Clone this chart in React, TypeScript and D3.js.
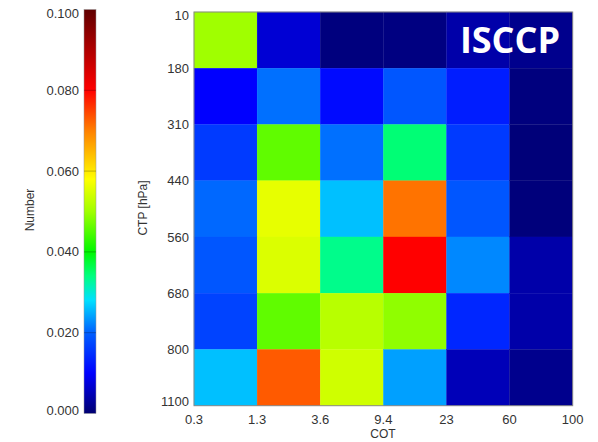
import React from "react";
import * as d3 from "d3";

const cotLabels = ["0.3", "1.3", "3.6", "9.4", "23", "60", "100"];
const ctpLabels = ["10", "180", "310", "440", "560", "680", "800", "1100"];
// rows: top (10-180) to bottom (800-1100); columns: COT bins left to right
const values: number[][] = [
  [0.050, 0.007, 0.001, 0.0012, 0.004, 0.002],
  [0.010, 0.021, 0.011, 0.019, 0.013, 0.001],
  [0.016, 0.046, 0.021, 0.0345, 0.016, 0.0006],
  [0.0205, 0.056, 0.026, 0.071, 0.019, 0.0008],
  [0.019, 0.055, 0.0335, 0.080, 0.0225, 0.004],
  [0.017, 0.046, 0.052, 0.049, 0.014, 0.004],
  [0.026, 0.073, 0.054, 0.024, 0.005, 0.002],
];
const cbTicks = [0, 0.02, 0.04, 0.06, 0.08, 0.1];
const cmapStops = [0, 0.01, 0.02, 0.028, 0.034, 0.04, 0.05, 0.058, 0.07, 0.08, 0.1];
const cmapColors = ["#000070", "#0000ff", "#0060ff", "#00e0ff", "#00ff80", "#00f800", "#a0ff00", "#ffff00", "#ff8000", "#ff0000", "#600000"];

export default function App() {
  const W = 598, H = 442;
  const left = 194, right = 572.7, top = 12, bottom = 405.7;
  const nCols = cotLabels.length - 1;
  const nRows = ctpLabels.length - 1;
  const x = d3.scaleLinear().domain([0, nCols]).range([left, right]);
  const y = d3.scaleLinear().domain([0, nRows]).range([top, bottom]);
  const color = d3.scaleLinear<string>().domain(cmapStops).range(cmapColors).clamp(true);

  const cbX = 84, cbW = 12, cbTop = 9.5, cbBottom = 413.5;
  const cy = d3.scaleLinear().domain([0, 0.1]).range([cbBottom, cbTop]);
  const gradStops = d3.range(0, 101).map((i) => i / 1000);

  const font = "Liberation Sans, Arial, sans-serif";
  const tc = "#333";

  return (
    <svg width={W} height={H} style={{ position: "absolute", left: 0, top: 0 }} fontFamily={font}>
      <defs>
        <linearGradient id="cb" x1="0" y1="1" x2="0" y2="0">
          {gradStops.map((v) => (
            <stop key={v} offset={v / 0.1} stopColor={color(v)} />
          ))}
        </linearGradient>
      </defs>
      <rect x={0} y={0} width={W} height={H} fill="#fff" />
      {/* colorbar */}
      <rect x={cbX} y={cbTop} width={cbW} height={cbBottom - cbTop} fill="url(#cb)" stroke="#999" strokeWidth={0.5} />
      {cbTicks.map((t) => (
        <g key={t}>
          {t > 0 && t < 0.1 && (
            <line x1={cbX} x2={cbX + cbW} y1={cy(t)} y2={cy(t)} stroke="#000" strokeOpacity={0.25} strokeWidth={1} />
          )}
          <text
            x={79}
            y={Math.min(Math.max(cy(t), 13.3), 410)}
            dy="0.35em"
            textAnchor="end"
            fontSize={13}
            fill={tc}
          >
            {t.toFixed(3)}
          </text>
        </g>
      ))}
      <text transform={`translate(34,210) rotate(-90)`} textAnchor="middle" fontSize={12} fill={tc}>
        Number
      </text>
      {/* heatmap */}
      {values.map((row, r) =>
        row.map((v, c) => (
          <rect
            key={`${r}-${c}`}
            x={x(c)}
            y={y(r)}
            width={x(c + 1) - x(c)}
            height={y(r + 1) - y(r)}
            fill={color(v)}
            stroke={color(v)}
            strokeWidth={0.3}
          />
        ))
      )}
      <rect x={left} y={top} width={right - left} height={bottom - top} fill="none" stroke="#888" strokeWidth={1} />
      {ctpLabels.map((l, i) => (
        <text
          key={l}
          x={189}
          y={Math.min(Math.max(y(i), 15.7), 401.7)}
          dy="0.35em"
          textAnchor="end"
          fontSize={13}
          fill={tc}
        >
          {l}
        </text>
      ))}
      {cotLabels.map((l, i) => (
        <text key={l} x={x(i)} y={424} textAnchor="middle" fontSize={13} fill={tc}>
          {l}
        </text>
      ))}
      <text x={383} y={438} textAnchor="middle" fontSize={12} fill={tc}>
        COT
      </text>
      <text transform={`translate(147,208) rotate(-90)`} textAnchor="middle" fontSize={12} fill={tc}>
        CTP [hPa]
      </text>
      <text x={510} y={53} textAnchor="middle" fontSize={36} fontWeight="bold" fill="#fff" fontFamily="Open Sans, sans-serif">
        ISCCP
      </text>
    </svg>
  );
}
